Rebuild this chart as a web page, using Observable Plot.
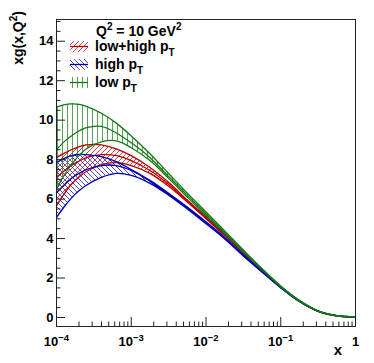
<!DOCTYPE html>
<html><head><meta charset="utf-8">
<script src="https://cdn.jsdelivr.net/npm/d3@7"></script>
<script src="https://cdn.jsdelivr.net/npm/@observablehq/plot@0.6"></script>
<style>
body{margin:0;background:#fff;}
#chart svg{font-family:"Liberation Sans",Arial,Helvetica,sans-serif;font-weight:bold;}
</style></head>
<body><div id="chart"></div>
<script>
// x grid (log-spaced sample positions)
const xValues = [1e-4, 1.26e-4, 1.58e-4, 2e-4, 2.51e-4, 3.98e-4, 6.31e-4, 1e-3, 1.78e-3, 3.16e-3, 5.62e-3, 1e-2, 1.78e-2, 3.16e-2, 5.62e-2, 0.1, 0.178, 0.316, 0.562, 1];

// low+high pT (red)
const redHi  = [8.10, 8.32, 8.50, 8.65, 8.75, 8.75, 8.55, 8.20, 7.60, 6.85, 5.95, 5.10, 4.23, 3.32, 2.42, 1.57, 0.85, 0.33, 0.09, 0.035];
const redMid = [7.10, 7.42, 7.70, 7.92, 8.10, 8.25, 8.20, 7.95, 7.45, 6.75, 5.90, 5.05, 4.19, 3.28, 2.40, 1.55, 0.84, 0.32, 0.085, 0.03];
const redLo  = [5.66, 6.25, 6.75, 7.12, 7.40, 7.75, 7.85, 7.70, 7.30, 6.65, 5.85, 5.00, 4.15, 3.25, 2.37, 1.53, 0.82, 0.31, 0.08, 0.03];

// high pT (blue)
const blueHi  = [7.85, 8.05, 8.20, 8.26, 8.25, 8.15, 7.90, 7.50, 6.95, 6.30, 5.60, 4.85, 4.06, 3.18, 2.34, 1.54, 0.84, 0.33, 0.09, 0.035];
const blueMid = [6.33, 6.72, 7.05, 7.30, 7.50, 7.70, 7.70, 7.45, 6.90, 6.25, 5.55, 4.80, 4.02, 3.15, 2.32, 1.52, 0.82, 0.32, 0.085, 0.03];
const blueLo  = [5.07, 5.60, 6.05, 6.42, 6.70, 7.10, 7.30, 7.20, 6.80, 6.20, 5.50, 4.75, 3.98, 3.12, 2.30, 1.50, 0.80, 0.31, 0.08, 0.03];

// low pT (green)
const greenHi  = [10.66, 10.77, 10.82, 10.80, 10.70, 10.35, 9.85, 9.20, 8.30, 7.30, 6.30, 5.35, 4.38, 3.42, 2.48, 1.60, 0.87, 0.34, 0.10, 0.04];
const greenMid = [8.50, 8.90, 9.20, 9.45, 9.62, 9.68, 9.35, 8.85, 8.10, 7.15, 6.20, 5.26, 4.31, 3.37, 2.45, 1.57, 0.85, 0.33, 0.09, 0.035];
const greenLo  = [6.50, 7.20, 7.75, 8.20, 8.55, 8.90, 8.95, 8.60, 7.95, 7.05, 6.10, 5.17, 4.25, 3.33, 2.42, 1.55, 0.83, 0.32, 0.085, 0.03];

const seriesNames = ["low+high p", "high p", "low p"];
const seriesSub = "T";
const titleText = ["Q", "2", " = 10 GeV", "2"];
const yTitle = ["xg(x,Q", "2", ")"];
const xTitle = "x";

const yMajorTicks = [0, 2, 4, 6, 8, 10, 12, 14];
const yMinorTicks = [0.5, 1, 1.5, 2.5, 3, 3.5, 4.5, 5, 5.5, 6.5, 7, 7.5, 8.5, 9, 9.5, 10.5, 11, 11.5, 12.5, 13, 13.5, 14.5, 15];
const xMajorTicks = [1e-4, 1e-3, 1e-2, 1e-1, 1];
const xTickLabels = ["10^-4", "10^-3", "10^-2", "10^-1", "1"];
const xMinorTicks = [];
for (const d of [1e-4, 1e-3, 1e-2, 1e-1]) for (let m = 2; m <= 9; m++) xMinorTicks.push(d * m);

const colors = {red: "#b80000", blue: "#0000b0", green: "#127a12"};

function rows(lo, mid, hi) {
  return xValues.map((x, i) => ({x, lo: lo[i], mid: mid[i], hi: hi[i]}));
}
const bands = [
  {id: "hRed", color: colors.red, data: rows(redLo, redMid, redHi), name: seriesNames[0],
   path: "M-1,1 l2,-2 M0,5 l5,-5 M4,6 l2,-2"},
  {id: "hBlue", color: colors.blue, data: rows(blueLo, blueMid, blueHi), name: seriesNames[1],
   path: "M-1,4 l2,2 M0,0 l5,5 M4,-1 l2,2"},
  {id: "hGreen", color: colors.green, data: rows(greenLo, greenMid, greenHi), name: seriesNames[2],
   path: "M2.5,0 v5"}
];

const curve = "catmull-rom";
const lw = 1.3;

function defsMark() {
  const g = d3.create("svg:g");
  const defs = g.append("defs");
  for (const b of bands) {
    defs.append("pattern").attr("id", b.id).attr("patternUnits", "userSpaceOnUse")
      .attr("width", 5).attr("height", 5)
      .append("path").attr("d", b.path).attr("stroke", b.color)
      .attr("stroke-width", 1).attr("stroke-opacity", 0.7).attr("fill", "none");
  }
  return g.node();
}

function overlayMark(index, scales, values, dims) {
  const g = d3.create("svg:g").attr("fill", "#000").attr("font-weight", "bold")
    .attr("text-anchor", "start");
  // legend title
  const q = g.append("text").attr("x", 96).attr("y", 36).attr("font-size", 14);
  q.append("tspan").text(titleText[0]);
  q.append("tspan").attr("font-size", 10).attr("dy", -6).text(titleText[1]);
  q.append("tspan").attr("dy", 6).text(titleText[2]);
  q.append("tspan").attr("font-size", 10).attr("dy", -6).text(titleText[3]);
  // legend entries
  const base = [50.5, 68.5, 86.5];
  bands.forEach((b, i) => {
    const y = base[i];
    g.append("rect").attr("x", 70).attr("y", y - 9.5).attr("width", 18).attr("height", 11)
      .attr("fill", `url(#${b.id})`);
    g.append("line").attr("x1", 70).attr("x2", 88).attr("y1", y - 4).attr("y2", y - 4)
      .attr("stroke", b.color).attr("stroke-width", lw);
    const t = g.append("text").attr("x", 95).attr("y", y).attr("font-size", 14);
    t.append("tspan").text(b.name);
    t.append("tspan").attr("font-size", 10).attr("dy", 5).text(seriesSub);
  });
  // y title
  const yt = g.append("text").attr("transform", "translate(23,11) rotate(-90)")
    .attr("text-anchor", "end").attr("font-size", 14);
  yt.append("tspan").text(yTitle[0]);
  yt.append("tspan").attr("font-size", 10).attr("dy", -6).text(yTitle[1]);
  yt.append("tspan").attr("dy", 6).text(yTitle[2]);
  // x title
  g.append("text").attr("x", dims.width - dims.marginRight - 13).attr("y", 355)
    .attr("text-anchor", "end").attr("font-size", 15).text(xTitle);
  return g.node();
}

const axisColor = "#222";
const plot = Plot.plot({
  width: 374, height: 363,
  marginLeft: 56, marginRight: 19, marginTop: 19, marginBottom: 37,
  x: {type: "log", domain: [1e-4, 1]},
  y: {domain: [-0.456, 15.1]},
  style: {background: "#fff", color: "#000", fontSize: "13px", fontWeight: "bold",
          fontFamily: "'Liberation Sans', Arial, Helvetica, sans-serif"},
  marks: [
    defsMark,
    ...bands.map(b => Plot.areaY(b.data, {x: "x", y1: "lo", y2: "hi", fill: `url(#${b.id})`, curve})),
    ...bands.flatMap(b => ["lo", "mid", "hi"].map(k =>
      Plot.line(b.data, {x: "x", y: k, stroke: b.color, strokeWidth: lw, curve}))),
    Plot.frame({stroke: axisColor, strokeWidth: 1}),
    Plot.axisY(yMajorTicks, {tickSize: -9, fill: "none", label: null, stroke: axisColor}),
    Plot.axisY(yMinorTicks, {tickSize: -4.5, fill: "none", label: null, stroke: axisColor}),
    Plot.axisY(yMajorTicks, {tickSize: 0, tickPadding: 3, label: null, fontSize: 13, tickFormat: d => String(d)}),
    Plot.axisX(xMajorTicks, {tickSize: -9, fill: "none", label: null, stroke: axisColor}),
    Plot.axisX(xMinorTicks, {tickSize: -4.5, fill: "none", label: null, stroke: axisColor}),
    Plot.axisX(xMajorTicks, {tickSize: 0, tickPadding: 10, label: null, fontSize: 13,
      tickFormat: d => xTickLabels[xMajorTicks.indexOf(d)]}),
    overlayMark
  ]
});

// render superscript exponents in x tick labels
const NS = "http://www.w3.org/2000/svg";
plot.querySelectorAll('g[aria-label="x-axis tick label"] text').forEach(t => {
  const s = t.textContent;
  if (!s.includes("^")) return;
  const [b, e] = s.split("^");
  t.textContent = "";
  const a = document.createElementNS(NS, "tspan"); a.textContent = b; t.appendChild(a);
  const sp = document.createElementNS(NS, "tspan");
  sp.setAttribute("font-size", "9.5"); sp.setAttribute("dy", "-5");
  sp.textContent = e.replace("-", "\u2212"); t.appendChild(sp);
});
document.getElementById("chart").appendChild(plot);
</script>
</body></html>
